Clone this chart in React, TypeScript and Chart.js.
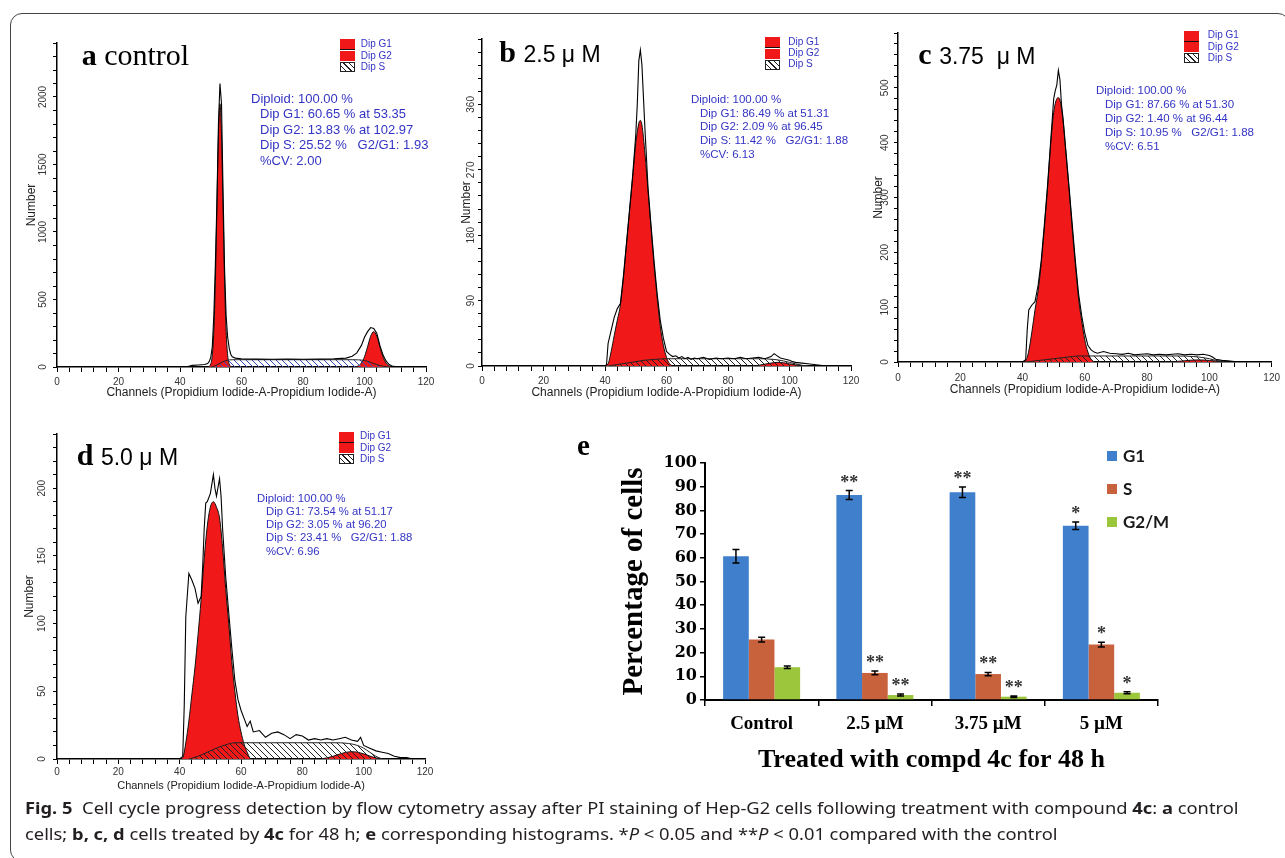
import React, { useEffect, useLayoutEffect, useRef } from 'react';
import { Chart, registerables } from 'chart.js';

Chart.register(...registerables);
Chart.defaults.font.family = "'Liberation Sans', Arial, sans-serif";

// ---------------- panel a : control ----------------
const aRawCh = [42, 44, 46, 48, 49, 49.5, 50, 50.5, 51, 51.5, 52, 52.5, 53, 53.5, 54, 54.5, 55, 55.5, 56, 56.5, 57, 58, 60, 65, 70, 75, 80, 85, 90, 94, 96, 97.5, 99, 100, 101, 102, 103, 104, 105, 106, 107, 108, 109, 110, 112, 114];
const aRaw = [0, 12, 15, 18, 25, 40, 70, 150, 380, 760, 1220, 1800, 2100, 1950, 1300, 720, 380, 220, 140, 95, 75, 66, 60, 58, 57, 58, 57, 58, 60, 66, 80, 105, 160, 220, 262, 292, 285, 250, 160, 90, 45, 18, 8, 4, 1, 0];
const aG1Ch = [49, 49.5, 50, 50.5, 51, 51.5, 52, 52.5, 53, 53.5, 54, 54.5, 55, 55.5, 56, 56.5, 57];
const aG1 = [0, 4, 22, 86, 264, 634, 1183, 1720, 1950, 1720, 1183, 634, 264, 86, 22, 4, 0];
const aG2Ch = [97, 98, 99, 100, 101, 102, 103, 104, 105, 106, 107, 108, 109];
const aG2 = [2, 8, 29, 76, 150, 228, 262, 228, 150, 76, 29, 8, 2];
const aSCh = [50, 51, 52, 53, 54, 55, 56, 57, 60, 70, 80, 90, 96, 98, 100, 101, 102, 103, 104, 105, 106, 107, 108];
const aS = [0, 5, 15, 28, 40, 48, 52, 54, 54, 54, 54, 54, 54, 53, 48, 42, 34, 26, 18, 11, 6, 2, 0];
const aStats = ['Diploid: 100.00 %', 'Dip G1: 60.65 % at 53.35', 'Dip G2: 13.83 % at 102.97', 'Dip S: 25.52 %   G2/G1: 1.93', '%CV: 2.00'];

// ---------------- panel b : 2.5 uM ----------------
const bRawCh = [40, 40.5, 41, 42, 43, 44, 45, 46, 47, 48, 49, 50, 50.5, 51, 51.5, 52, 52.5, 53, 54, 55, 56, 57, 58, 59, 60, 61, 62, 63, 64, 65, 66, 67, 68, 69, 70, 72, 74, 76, 78, 80, 82, 84, 86, 88, 90, 92, 94, 95, 96, 97, 98, 99, 100, 101, 102, 104, 106, 108, 110, 112];
const bRaw = [0, 2, 31, 49, 67, 79, 86, 124, 170, 216, 262, 318, 360, 420, 435, 415, 370, 325, 245, 192, 142, 98, 62, 38, 20, 16, 13, 14, 11, 13, 10, 12, 9, 11, 10, 12, 9, 11, 10, 11, 10, 12, 10, 11, 12, 10, 13, 17, 14, 11, 10, 9, 8, 6, 5, 4, 3, 2, 1, 0];
const bG1Ch = [40, 41, 42, 43, 44, 45, 46, 47, 48, 49, 50, 51, 51.5, 52, 53, 54, 55, 56, 57, 58, 59, 60, 61, 62];
const bG1 = [0, 3, 20, 42, 63, 84, 122, 168, 214, 260, 306, 334, 338, 332, 292, 240, 188, 137, 92, 54, 28, 12, 3, 0];
const bG2Ch = [88, 90, 92, 94, 96, 98, 100, 102, 104, 106];
const bG2 = [0, 1, 2.5, 4, 5, 4.5, 3, 1.5, 0.5, 0];
const bSCh = [41, 44, 47, 50, 53, 56, 60, 70, 80, 90, 95, 98, 100, 102, 104, 106];
const bS = [0, 2, 4, 6, 8, 9, 10, 10, 10, 10, 9, 7, 5, 3, 1, 0];
const bStats = ['Diploid: 100.00 %', 'Dip G1: 86.49 % at 51.31', 'Dip G2: 2.09 % at 96.45', 'Dip S: 11.42 %   G2/G1: 1.88', '%CV: 6.13'];

// ---------------- panel c : 3.75 uM ----------------
const cRawCh = [40, 41, 41.5, 42, 43, 44, 45, 46, 47, 48, 49, 50, 50.5, 51, 51.5, 52, 52.5, 53, 54, 55, 56, 57, 58, 59, 60, 61, 62, 63, 64, 66, 68, 70, 72, 74, 76, 78, 80, 82, 84, 86, 88, 90, 92, 94, 96, 98, 100, 101, 102, 104, 106, 108, 110, 112];
const cRaw = [0, 4, 59, 95, 104, 110, 140, 185, 250, 320, 400, 480, 495, 505, 532, 515, 470, 445, 380, 315, 248, 182, 124, 84, 52, 30, 22, 18, 16, 19, 16, 15, 14, 16, 13, 14, 15, 13, 14, 13, 14, 15, 13, 14, 13, 14, 12, 9, 5, 3, 2, 1, 1, 0];
const cG1Ch = [40, 41, 42, 43, 44, 45, 46, 47, 48, 49, 50, 51, 51.5, 52, 53, 54, 55, 56, 57, 58, 59, 60, 61, 62, 63];
const cG1 = [0, 2, 20, 55, 95, 130, 180, 245, 315, 395, 455, 480, 482, 478, 440, 375, 310, 240, 175, 115, 75, 40, 18, 5, 0];
const cG2Ch = [86, 88, 90, 92, 94, 96, 98, 100, 102, 104, 106];
const cG2 = [0, 0.5, 1.2, 2.2, 3.2, 3.8, 3.6, 2.8, 1.6, 0.6, 0];
const cSCh = [41, 44, 47, 50, 53, 56, 58, 60, 70, 80, 90, 95, 98, 100, 102, 104, 106];
const cS = [0, 2, 4, 6, 8, 10, 11, 11, 11, 11, 11, 10, 8, 6, 3, 1, 0];
const cStats = ['Diploid: 100.00 %', 'Dip G1: 87.66 % at 51.30', 'Dip G2: 1.40 % at 96.44', 'Dip S: 10.95 %   G2/G1: 1.88', '%CV: 6.51'];

// ---------------- panel d : 5.0 uM ----------------
const dRawCh = [40, 41, 41.5, 42, 43, 44, 45, 46, 47, 47.5, 48, 48.5, 49, 50, 51, 51.5, 52, 53, 53.5, 54, 55, 56, 57, 58, 59, 60, 61, 62, 63, 64, 66, 68, 70, 72, 74, 76, 78, 80, 82, 84, 86, 88, 90, 92, 94, 96, 98, 99, 100, 102, 104, 106, 108, 110, 112, 114, 116];
const dRaw = [0, 2, 40, 105, 137, 132, 126, 115, 120, 142, 170, 189, 190, 196, 210, 200, 194, 207, 194, 170, 135, 108, 82, 58, 44, 36, 30, 24, 28, 20, 21, 16, 19, 20, 18, 15, 18, 17, 14, 15, 14, 15, 14, 15, 16, 14, 13, 16, 10, 8, 6, 5, 4, 2, 1, 1, 0];
const dG1Ch = [40, 41, 42, 43, 44, 45, 46, 47, 48, 49, 50, 51, 52, 53, 54, 55, 56, 57, 58, 59, 60, 61, 62, 63];
const dG1 = [0, 1, 12, 28, 48, 68, 92, 118, 148, 172, 186, 190, 186, 178, 156, 126, 100, 72, 50, 32, 20, 11, 5, 0];
const dG2Ch = [86, 88, 90, 92, 94, 96, 98, 100, 102, 104, 106];
const dG2 = [0, 0.8, 2, 3.5, 4.8, 5.4, 5, 3.8, 2.2, 0.8, 0];
const dSCh = [43, 46, 49, 52, 55, 58, 60, 70, 80, 90, 95, 98, 100, 102, 104, 106];
const dS = [0, 2, 5, 8, 10.5, 12, 12, 12, 12, 12, 11.5, 10, 8, 5, 2, 0];
const dStats = ['Diploid: 100.00 %', 'Dip G1: 73.54 % at 51.17', 'Dip G2: 3.05 % at 96.20', 'Dip S: 23.41 %   G2/G1: 1.88', '%CV: 6.96'];

const histLegend = ['Dip G1', 'Dip G2', 'Dip S'];

// ---------------- panel e : bar chart ----------------
const eCategories = ['Control', '2.5 µM', '3.75 µM', '5 µM'];
const eSeries = ['G1', 'S', 'G2/M'];
const g1Vals = [60.65, 86.49, 87.66, 73.54];
const g1Err = [2.8, 1.9, 2.2, 1.6];
const sVals = [25.52, 11.42, 10.95, 23.41];
const sErr = [1.0, 0.8, 0.7, 1.0];
const g2Vals = [13.83, 2.09, 1.4, 3.05];
const g2Err = [0.5, 0.4, 0.3, 0.4];
const g1Sig = ['', '**', '**', '*'];
const sSig = ['', '**', '**', '*'];
const g2Sig = ['', '**', '**', '*'];

const RED = '#f01818';
const BLUE_TXT = '#3434c4';
const E_COLORS = ['#3f7fcb', '#c8623c', '#9cc63c'];

const panels = [
  { key: 'a', rawCh: aRawCh, raw: aRaw, g1Ch: aG1Ch, g1: aG1, g2Ch: aG2Ch, g2: aG2, sCh: aSCh, s: aS,
    yMax: 2400, yStep: 100, yMajor: 500,
    box: { left: 14, top: 20, w: 430, h: 390, padTop: 23, padRight: 18, yW: 43, xH: 43 },
    yLabelOff: 13.5, xTickPad: 4, xTitlePadB: 9.8, yTitlePadT: 10.8, titleSize: 12, hatch: '#3848c0' },
  { key: 'b', rawCh: bRawCh, raw: bRaw, g1Ch: bG1Ch, g1: bG1, g2Ch: bG2Ch, g2: bG2, sCh: bSCh, s: bS,
    yMax: 450, yStep: 18, yMajor: 90,
    box: { left: 446, top: 16, w: 424, h: 394, padTop: 23, padRight: 19, yW: 36, xH: 44 },
    yLabelOff: 10.5, xTickPad: 4, xTitlePadB: 9.8, yTitlePadT: 13.8, titleSize: 12, hatch: '#222' },
  { key: 'c', rawCh: cRawCh, raw: cRaw, g1Ch: cG1Ch, g1: cG1, g2Ch: cG2Ch, g2: cG2, sCh: cSCh, s: cS,
    yMax: 600, yStep: 20, yMajor: 100,
    box: { left: 862, top: 10, w: 423, h: 395, padTop: 23, padRight: 13, yW: 36, xH: 43 },
    yLabelOff: 13, xTickPad: 5, xTitlePadB: 7.8, yTitlePadT: 9.8, titleSize: 12, hatch: '#222' },
  { key: 'd', rawCh: dRawCh, raw: dRaw, g1Ch: dG1Ch, g1: dG1, g2Ch: dG2Ch, g2: dG2, sCh: dSCh, s: dS,
    yMax: 240, yStep: 10, yMajor: 50,
    box: { left: 14, top: 414, w: 430, h: 382, padTop: 20, padRight: 19, yW: 43, xH: 37 },
    yLabelOff: 15, xTickPad: 2, xTitlePadB: 3.4, yTitlePadT: 8.8, titleSize: 11, hatch: '#222' },
];

const panelText = [
  { letter: 'a', rest: 'control', serif: true, left: 81.7, top: 40, stats: aStats, sLeft: 251, sTop: 90.6, sLh: 15.5, sFs: 13,
    lgLeft: 340, lgTop: 39.3, lgLabLeft: 360.7, lgCenters: [44.3, 56, 67.3] },
  { letter: 'b', rest: '2.5 μ M', serif: false, left: 499.3, top: 36.7, stats: bStats, sLeft: 691, sTop: 93.2, sLh: 13.6, sFs: 11.5,
    lgLeft: 765, lgTop: 37.3, lgLabLeft: 788.3, lgCenters: [42.3, 52.7, 64] },
  { letter: 'c', rest: '3.75  μ M', serif: false, left: 918.3, top: 39, stats: cStats, sLeft: 1096, sTop: 83, sLh: 14, sFs: 11.5,
    lgLeft: 1184, lgTop: 30.7, lgLabLeft: 1207.7, lgCenters: [35, 46.7, 58.3] },
  { letter: 'd', rest: '5.0 μ M', serif: false, left: 76.7, top: 440, stats: dStats, sLeft: 257, sTop: 491.6, sLh: 13.3, sFs: 11.3,
    lgLeft: 339, lgTop: 431.7, lgLabLeft: 360, lgCenters: [436, 448.3, 459.3] },
];

function makeHatch(ctx: CanvasRenderingContext2D, color: string) {
  const s = 6;
  const c = document.createElement('canvas');
  c.width = s;
  c.height = s;
  const g = c.getContext('2d')!;
  g.strokeStyle = color;
  g.lineWidth = 1;
  g.beginPath();
  g.moveTo(-1, -1); g.lineTo(s + 1, s + 1);
  g.moveTo(s - 1, -1); g.lineTo(s + 1, 1);
  g.moveTo(-1, s - 1); g.lineTo(1, s + 1);
  g.stroke();
  return ctx.createPattern(c, 'repeat')!;
}

function pts(xs: number[], ys: number[]) {
  return xs.map((x, i) => ({ x, y: ys[i] }));
}

function Histogram({ p }: { p: any }) {
  const ref = useRef<HTMLCanvasElement>(null);
  useEffect(() => {
    const canvas = ref.current!;
    const ctx = canvas.getContext('2d')!;
    const hatch = makeHatch(ctx, p.hatch);
    const b = p.box;
    const rotLabels = {
      id: 'rotLabels',
      afterDraw(chart: any) {
        const sc = chart.scales.y;
        const c = chart.ctx;
        c.save();
        c.font = "10px 'Liberation Sans', Arial, sans-serif";
        c.fillStyle = '#333';
        c.textAlign = 'center';
        c.textBaseline = 'middle';
        for (const t of sc.ticks) {
          if (Math.round(t.value) % p.yMajor !== 0 || t.value >= p.yMax) continue;
          const y = sc.getPixelForValue(t.value);
          c.save();
          c.translate(sc.right - p.yLabelOff, y);
          c.rotate(-Math.PI / 2);
          c.fillText(String(t.value), 0, 0);
          c.restore();
        }
        c.restore();
      },
    };
    const chart = new Chart(ctx, {
      type: 'line',
      data: {
        datasets: [
          { data: pts(p.rawCh, p.raw), borderColor: '#000', borderWidth: 1.1, fill: false, tension: 0, pointRadius: 0, order: 0 },
          { data: pts(p.sCh, p.s), borderColor: '#222', borderWidth: 1, backgroundColor: hatch, fill: 'origin', cubicInterpolationMode: 'monotone', pointRadius: 0, order: 1 },
          { data: pts(p.g1Ch, p.g1), borderColor: '#111', borderWidth: 1, backgroundColor: RED, fill: 'origin', cubicInterpolationMode: 'monotone', pointRadius: 0, order: 2 },
          { data: pts(p.g2Ch, p.g2), borderColor: '#111', borderWidth: 1, backgroundColor: RED, fill: 'origin', cubicInterpolationMode: 'monotone', pointRadius: 0, order: 2 },
        ],
      },
      options: {
        responsive: false,
        animation: false,
        events: [],
        layout: { padding: { left: 0, top: b.padTop, right: b.padRight, bottom: 0 } },
        plugins: { legend: { display: false }, tooltip: { enabled: false } },
        scales: {
          x: {
            type: 'linear', min: 0, max: 120,
            ticks: {
              stepSize: 4, autoSkip: false, maxRotation: 0, padding: p.xTickPad, color: '#333',
              font: { family: 'Liberation Sans', size: 10 },
              callback: (v: any) => (Math.round(v) % 20 === 0 ? String(v) : ''),
            },
            grid: { drawOnChartArea: false, drawTicks: true, tickLength: 5, color: '#000' },
            border: { display: true, color: '#000', width: 1.5 },
            title: {
              display: true, text: 'Channels (Propidium Iodide-A-Propidium Iodide-A)', color: '#222',
              font: { family: 'Liberation Sans', size: p.titleSize }, padding: { top: 0, bottom: p.xTitlePadB },
            },
            afterFit: (s: any) => { s.height = b.xH; },
          },
          y: {
            type: 'linear', min: 0, max: p.yMax,
            ticks: { stepSize: p.yStep, autoSkip: false, display: false },
            grid: { drawOnChartArea: false, drawTicks: true, tickLength: 4, color: '#000' },
            border: { display: true, color: '#000', width: 1.5 },
            title: {
              display: true, text: 'Number', color: '#222',
              font: { family: 'Liberation Sans', size: 12 }, padding: { top: p.yTitlePadT, bottom: 0 },
            },
            afterFit: (s: any) => { s.width = b.yW; },
          },
        },
      } as any,
      plugins: [rotLabels],
    });
    return () => chart.destroy();
  }, []);
  const b = p.box;
  return (
    <canvas ref={ref} width={b.w} height={b.h}
      style={{ position: 'absolute', left: b.left, top: b.top, width: b.w, height: b.h }} />
  );
}

function BarPanel() {
  const ref = useRef<HTMLCanvasElement>(null);
  useEffect(() => {
    const ctx = ref.current!.getContext('2d')!;
    const vals = [g1Vals, sVals, g2Vals];
    const errs = [g1Err, sErr, g2Err];
    const sigs = [g1Sig, sSig, g2Sig];
    const errorBars = {
      id: 'errorBars',
      afterDatasetsDraw(chart: any) {
        const c = chart.ctx;
        const ys = chart.scales.y;
        c.save();
        for (let i = 0; i < 3; i++) {
          const meta = chart.getDatasetMeta(i);
          meta.data.forEach((bar: any, j: number) => {
            const v = vals[i][j];
            const e = errs[i][j];
            const x = bar.x;
            const yt = ys.getPixelForValue(v + e);
            const yb = ys.getPixelForValue(Math.max(0, v - e));
            c.strokeStyle = '#000';
            c.lineWidth = 1.5;
            c.beginPath();
            c.moveTo(x, yt); c.lineTo(x, yb);
            c.moveTo(x - 3.5, yt); c.lineTo(x + 3.5, yt);
            c.moveTo(x - 3.5, yb); c.lineTo(x + 3.5, yb);
            c.stroke();
            if (sigs[i][j]) {
              c.fillStyle = '#333';
              c.font = "bold 18px 'Liberation Serif', serif";
              c.textAlign = 'center';
              c.textBaseline = 'alphabetic';
              c.fillText(sigs[i][j], x, yt - 3);
            }
          });
        }
        c.restore();
      },
    };
    const chart = new Chart(ctx, {
      type: 'bar',
      data: {
        labels: eCategories,
        datasets: eSeries.map((name, i) => ({
          label: name,
          data: vals[i],
          backgroundColor: E_COLORS[i],
          borderWidth: 0,
          categoryPercentage: 0.68,
          barPercentage: 1.0,
        })),
      },
      options: {
        responsive: false,
        animation: false,
        events: [],
        layout: { padding: { left: 0, top: 23, right: 22, bottom: 0 } },
        plugins: { legend: { display: false }, tooltip: { enabled: false } },
        scales: {
          x: {
            ticks: { color: '#000', font: { family: 'Liberation Serif', size: 19, weight: 'bold' }, padding: 6.6 },
            grid: { drawOnChartArea: false, tickLength: 6, color: '#000', lineWidth: 1.5, offset: true },
            border: { display: true, color: '#000', width: 2 },
            title: {
              display: true, text: 'Treated with compd 4c for 48 h', color: '#000',
              font: { family: 'Liberation Serif', size: 26, weight: 'bold' }, padding: { top: 0, bottom: 6.4 },
            },
            afterFit: (s: any) => { s.height = 82; },
          },
          y: {
            min: 0, max: 100,
            ticks: { stepSize: 10, color: '#000', font: { family: 'DejaVu Serif', size: 16, weight: 'bold' }, padding: 3 },
            grid: { drawOnChartArea: false, tickLength: 5, color: '#000', lineWidth: 1.5 },
            border: { display: true, color: '#000', width: 2 },
            title: {
              display: true, text: 'Percentage of cells', color: '#000',
              font: { family: 'Liberation Serif', size: 29, weight: 'bold' }, padding: { top: 37.6, bottom: 0 },
            },
            afterFit: (s: any) => { s.width = 125; },
          },
        },
      } as any,
      plugins: [errorBars],
    });
    return () => chart.destroy();
  }, []);
  return (
    <canvas ref={ref} width={600} height={342}
      style={{ position: 'absolute', left: 580, top: 440, width: 600, height: 342 }} />
  );
}

export default function App() {
  const l1 = useRef<HTMLDivElement>(null);
  const l2 = useRef<HTMLDivElement>(null);
  useLayoutEffect(() => {
    const w = l1.current!.offsetWidth;
    const k = 1213 / w;
    l1.current!.style.transform = `scaleX(${k})`;
    l2.current!.style.transform = `scaleX(${k})`;
  }, []);

  return (
    <div style={{ position: 'fixed', left: 0, top: 0, width: 1285, height: 858, background: '#fff', overflow: 'hidden' }}>
      <div style={{ position: 'absolute', left: 10, top: 13, width: 1280, height: 849, border: '1.5px solid #444', borderRadius: 12, boxSizing: 'border-box' }} />
      {panels.map((p) => <Histogram key={p.key} p={p} />)}
      <BarPanel />

      {panelText.map((t) => (
        <React.Fragment key={t.letter}>
          <div style={{ position: 'absolute', left: t.left, top: t.top, fontFamily: "'Liberation Serif', serif", fontSize: 30, lineHeight: '30px', whiteSpace: 'pre', color: '#000' }}>
            <b>{t.letter}</b>{' '}
            <span style={{ fontFamily: t.serif ? "'Liberation Serif', serif" : "'Liberation Sans', Arial, sans-serif", fontSize: t.serif ? 30 : 23 }}>{t.rest}</span>
          </div>
          <div style={{ position: 'absolute', left: t.sLeft, top: t.sTop, fontFamily: "'Liberation Sans', Arial, sans-serif", fontSize: t.sFs, lineHeight: `${t.sLh}px`, color: BLUE_TXT, whiteSpace: 'pre' }}>
            {t.stats.map((s, i) => <div key={i} style={{ paddingLeft: i === 0 ? 0 : 9 }}>{s}</div>)}
          </div>
          <div style={{ position: 'absolute', left: t.lgLeft, top: t.lgTop, width: 15, height: 10, background: RED, borderBottom: '1.2px solid #111' }} />
          <div style={{ position: 'absolute', left: t.lgLeft, top: t.lgTop + 11.2, width: 15, height: 10, background: RED }} />
          <div style={{ position: 'absolute', left: t.lgLeft, top: t.lgTop + 22.5, width: 15, height: 10, boxSizing: 'border-box', border: '1px solid #222', background: 'repeating-linear-gradient(45deg, #fff 0px, #fff 3px, #222 3px, #222 4px)' }} />
          {histLegend.map((name, i) => (
            <div key={name} style={{ position: 'absolute', left: t.lgLabLeft, top: t.lgCenters[i] - 6, fontFamily: "'Liberation Sans', Arial, sans-serif", fontSize: 10, lineHeight: '12px', color: BLUE_TXT, whiteSpace: 'nowrap' }}>{name}</div>
          ))}
        </React.Fragment>
      ))}

      <div style={{ position: 'absolute', left: 577, top: 430.7, fontFamily: "'Liberation Serif', serif", fontWeight: 'bold', fontSize: 29, lineHeight: '29px', color: '#000' }}>e</div>
      {eSeries.map((name, i) => (
        <React.Fragment key={name}>
          <div style={{ position: 'absolute', left: 1107, top: [455.5, 489, 521.5][i] - 5, width: 10, height: 10, background: E_COLORS[i] }} />
          <div style={{ position: 'absolute', left: 1123, top: [455.5, 489, 521.5][i] - 10, fontFamily: "Lato, 'Liberation Sans', sans-serif", fontWeight: 'bold', fontSize: 17, lineHeight: '20px', color: '#1a1a1a', whiteSpace: 'nowrap' }}>{name}</div>
        </React.Fragment>
      ))}

      <div style={{ position: 'absolute', left: 25, top: 795, fontFamily: "'Noto Sans', sans-serif", fontSize: 16, lineHeight: '26px', color: '#231f20', whiteSpace: 'nowrap' }}>
        <div>
          <div ref={l1} style={{ display: 'inline-block', transformOrigin: '0 0' }}>
            <b>Fig. 5</b>{'\u00a0\u00a0'}Cell cycle progress detection by flow cytometry assay after PI staining of Hep-G2 cells following treatment with compound <b>4c</b>: <b>a</b> control
          </div>
        </div>
        <div>
          <div ref={l2} style={{ display: 'inline-block', transformOrigin: '0 0' }}>
            cells; <b>b, c, d</b> cells treated by <b>4c</b> for 48 h; <b>e</b> corresponding histograms. *<i>P</i> &lt; 0.05 and **<i>P</i> &lt; 0.01 compared with the control
          </div>
        </div>
      </div>
    </div>
  );
}
